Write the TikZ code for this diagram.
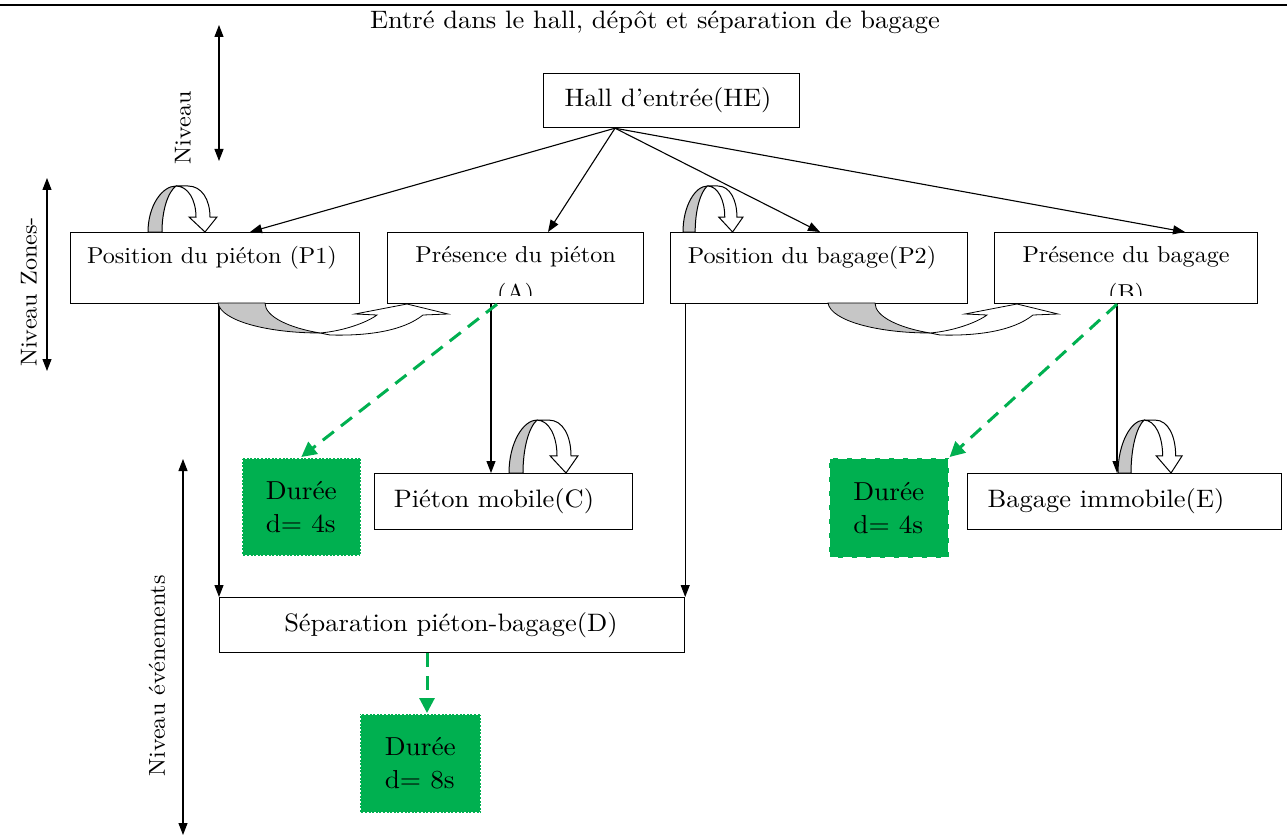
\documentclass[tikz,border=0pt]{standalone}
\usepackage{fontspec}
\setmainfont{lmroman10-regular.otf}[FakeStretch=1.05]
\usetikzlibrary{arrows.meta,calc}
\definecolor{grn}{RGB}{0,176,80}
\tikzset{
  box/.style={draw,line width=1.2pt,rectangle,inner sep=0pt,anchor=north west},
  lbl/.style={font=\fontsize{23}{32}\selectfont,inner sep=0pt,align=center},
  big/.style={font=\fontsize{25.2}{30}\selectfont},
  arr/.style={line width=1.1pt,-{Triangle[length=12pt,width=9pt]}},
  darr/.style={line width=1.1pt,{Triangle[length=12pt,width=9pt]}-{Triangle[length=12pt,width=9pt]}},
  garr/.style={draw=grn,line width=3pt,dash pattern=on 14pt off 9pt,-{Triangle[length=15pt,width=15pt,fill=grn]}},
  gbox/.style={fill=grn,draw=white,line width=1.6pt,anchor=north west,inner sep=0pt,
    font=\fontsize{26}{33}\selectfont,align=left},
  curvd/.pic={
    \filldraw[fill=gray!45,line width=1pt] (0,0) .. controls (0,-26) and (14,-46) .. (28,-46)
       .. controls (20,-40) and (14,-22) .. (14,0) -- cycle;
    \filldraw[fill=white,line width=1pt] (28,-46) -- (40,-46) .. controls (54,-46) and (62,-32) .. (62,-15)
       -- (69,-15) -- (57,0) -- (41,-15) -- (48,-15) .. controls (48,-32) and (40,-46) .. (28,-46) -- cycle;
  },
  curvu/.pic={
    \filldraw[fill=gray!45,line width=0.8pt] (0,0) .. controls (3,18) and (50,30) .. (102,30)
       .. controls (72,25) and (47,14) .. (47,0) -- cycle;
    \filldraw[fill=white,line width=0.8pt] (102,30) .. controls (125,28) and (148,20) .. (159,12)
       -- (137,11) -- (189,1) -- (230,11) -- (205,12) .. controls (185,28) and (150,33) .. (112,32) -- cycle;
  }
}
\begin{document}
\begin{tikzpicture}[x=1pt,y=-1pt]
\useasboundingbox (0,0) rectangle (1287,837);
% top rule and title
\draw[line width=2.5pt] (0,5) -- (1287,5);
\node[lbl,big] (title) at (655,22) {Entré dans le hall, dépôt et séparation de bagage};

% boxes
\node[box,minimum width=256pt,minimum height=54pt] (HE) at (543,73) {};
\node[box,minimum width=289pt,minimum height=71pt] (P1) at (70,232) {};
\node[box,minimum width=256pt,minimum height=71pt] (A) at (387,232) {};
\node[box,minimum width=297pt,minimum height=71pt] (P2) at (670,232) {};
\node[box,minimum width=263pt,minimum height=71pt] (B) at (994,232) {};
\node[box,minimum width=258pt,minimum height=56pt] (C) at (374,473) {};
\node[box,minimum width=314pt,minimum height=56pt] (E) at (967,473) {};
\node[box,minimum width=465pt,minimum height=55pt] (D) at (219,597) {};

% box texts
\node[lbl,big] (tHE) at (668,100) {Hall d’entrée(HE)};
\node[lbl] (tP1) at (212,258) {Position du piéton (P1)};
\node[lbl] (tP2) at (812,258) {Position du bagage(P2)};
\begin{scope}
\clip (A.north west) rectangle ([yshift=9pt]A.south east);
\node[lbl,anchor=north,font=\fontsize{23}{38}\selectfont] (tA) at ([yshift=-14pt]A.north) {Présence du piéton\\(A)};
\end{scope}
\begin{scope}
\clip (B.north west) rectangle ([yshift=9pt]B.south east);
\node[lbl,anchor=north,font=\fontsize{23}{38}\selectfont] (tB) at ([yshift=-14pt]B.north) {Présence du bagage\\(B)};
\end{scope}
\node[lbl,big] (tC) at (494,501) {Piéton mobile(C)};
\node[lbl,big] (tE) at (1106,501) {Bagage immobile(E)};
\node[lbl,big] (tD) at (451,625) {Séparation piéton-bagage(D)};

% green boxes
\node[gbox,dotted,minimum width=119pt,minimum height=98pt] (G1) at (241,457) {Durée\\d= 4s};
\node[gbox,dash pattern=on 9pt off 5pt,minimum width=120pt,minimum height=100pt] (G2) at (828,457) {Durée\\d= 4s};
\node[gbox,dotted,minimum width=121pt,minimum height=99pt] (G3) at (359,713) {Durée\\d= 8s};

% connectors from HE
\coordinate (hub) at ([xshift=72pt]HE.south west);
\draw[arr] (hub) -- ([xshift=180pt]P1.north west);
\draw[arr] (hub) -- ([xshift=161pt]A.north west);
\draw[arr] (hub) -- ([xshift=150pt]P2.north west);
\draw[arr] (hub) -- ([xshift=191pt]B.north west);

% vertical connectors
\draw[arr] (P1.south -| D.north west) -- (D.north west);
\draw[arr] (P2.south -| D.north east) -- (D.north east);
\draw[arr] ([xshift=104pt]A.south west) -- ([xshift=117pt]C.north west);
\draw[arr] ([xshift=123pt]B.south west) -- ([xshift=150pt]E.north west);

% green dashed arrows
\draw[garr] ([xshift=110pt]A.south west) -- (G1.north);
\draw[garr] ([xshift=123pt]B.south west) -- (G2.north east);
\draw[garr] ([xshift=208pt]D.south west) -- ([xshift=68pt]G3.north west);

% curved arrows
\pic at (148,232) {curvd};
\pic[xscale=0.87] at (683,232) {curvd};
\pic[yscale=1.15] at (509,473) {curvd};
\pic[xscale=0.93,yscale=1.15] at (1118,473) {curvd};
\pic at (218,303) {curvu};
\pic at (828,303) {curvu};

% level arrows
\coordinate (n1a) at (219,25); \coordinate (n1b) at (219,161);
\draw[darr] (n1a) -- (n1b);
\node[lbl,rotate=90] (tn1) at (183,128) {Niveau};
\coordinate (n2a) at (47,178); \coordinate (n2b) at (47,371);
\draw[darr] (n2a) -- (n2b);
\node[lbl,rotate=90] (tn2) at (29,292) {Niveau Zones-};
\coordinate (n3a) at (183,459); \coordinate (n3b) at (183,835);
\draw[darr] (n3a) -- (n3b);
\node[lbl,rotate=90] (tn3) at (157,676) {Niveau événements};
\end{tikzpicture}
\end{document}
